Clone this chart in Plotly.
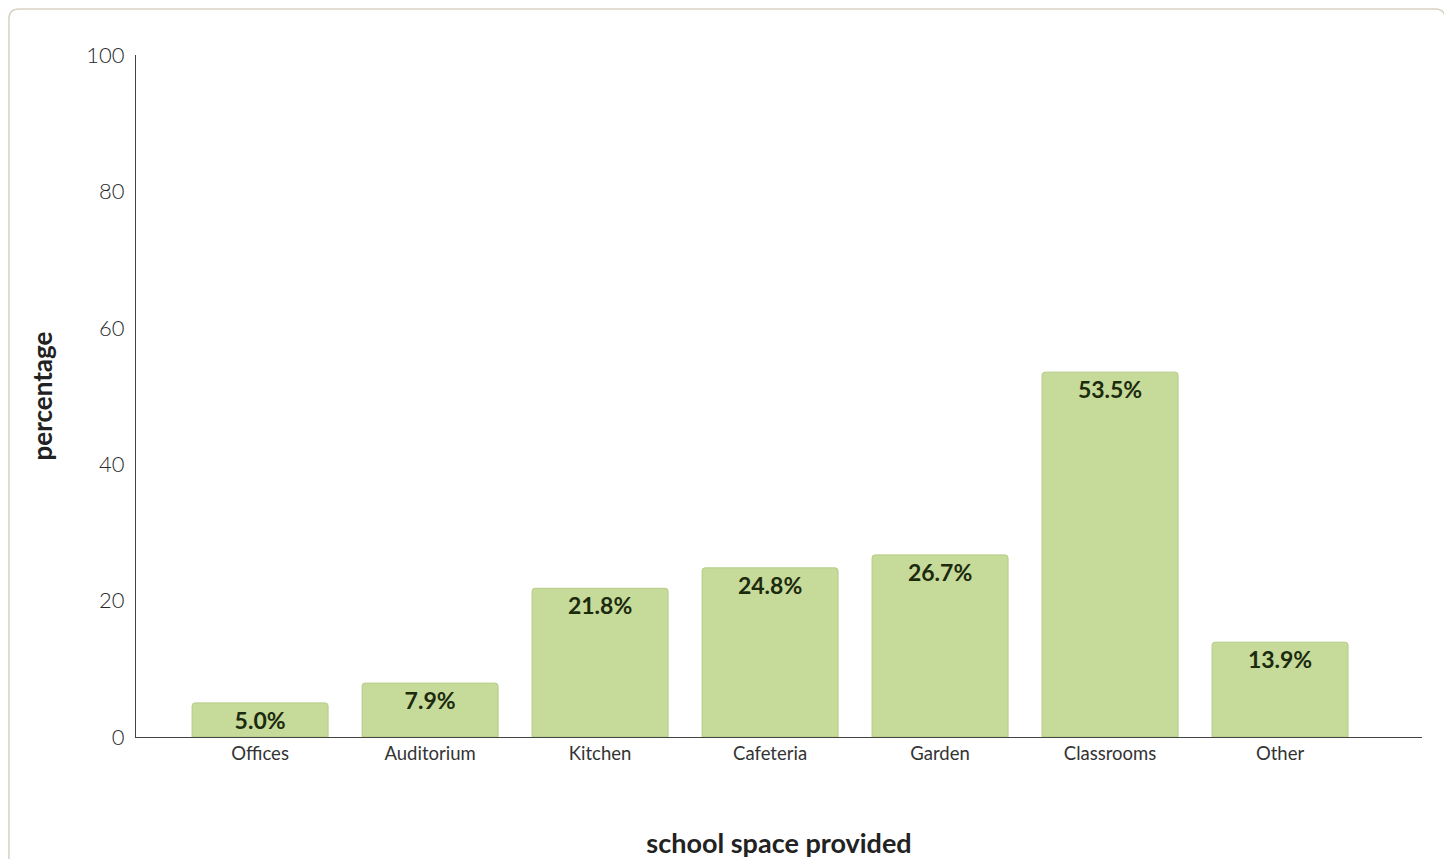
import plotly.graph_objects as go

categories = ["Offices", "Auditorium", "Kitchen", "Cafeteria", "Garden", "Classrooms", "Other"]
values = [5.0, 7.9, 21.8, 24.8, 26.7, 53.5, 13.9]
labels = [f"{v:.1f}%" for v in values]
y_ticks = [0, 20, 40, 60, 80, 100]

fig = go.Figure(go.Bar(
    x=categories, y=values, text=labels,
    textposition="inside", insidetextanchor="end", textangle=0,
    textfont=dict(family="Lato, sans-serif", size=23, color="#1c2a0e", weight="bold"),
    marker=dict(color="#c6da9a", line=dict(color="#b5cc86", width=1), cornerradius=3),
    width=0.8,
))

x0, x1 = -0.0988, 1.0180
ytop = 1.0674
rx, ry = 0.0078, 0.0147
border_path = (
    f"M {x0},-0.18 L {x0},{ytop - ry} Q {x0},{ytop} {x0 + rx},{ytop} "
    f"L {x1 - rx},{ytop} Q {x1},{ytop} {x1},{ytop - ry} L {x1},-0.18"
)

fig.update_layout(
    width=1452, height=859,
    margin=dict(l=128, r=38, t=47, b=130),
    paper_bgcolor="white", plot_bgcolor="white",
    showlegend=False,
    font=dict(family="Lato, sans-serif", color="#333333"),
    xaxis=dict(
        range=[-0.73, 6.835], showgrid=False, showline=True, linecolor="#444444", linewidth=1,
        ticks="", tickfont=dict(size=18.5, color="#333333"),
        title=dict(text="school space provided", font=dict(size=27, color="#222222", weight="bold"), standoff=70),
    ),
    yaxis=dict(
        range=[0, 100], tickvals=y_ticks, showgrid=False, showline=True, linecolor="#444444", linewidth=1,
        ticks="", ticklabelstandoff=6, tickfont=dict(size=22, color="#2a2a2a", weight=300), zeroline=False,
        title=dict(text="percentage", font=dict(size=26, color="#222222", weight="bold"), standoff=26),
    ),
    shapes=[dict(
        type="path", xref="paper", yref="paper", path=border_path,
        line=dict(color="#d8d2c2", width=1.5),
    )],
)

fig.write_html("out.html")
